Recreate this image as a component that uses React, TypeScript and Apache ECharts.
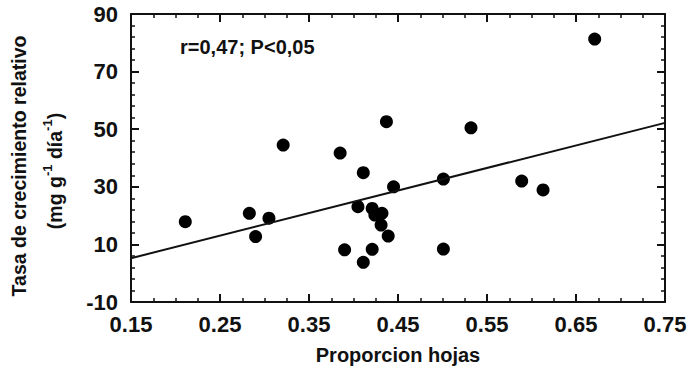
import React, { useEffect, useRef } from "react";
import * as echarts from "echarts";

const proporcionHojas = [0.211, 0.283, 0.29, 0.305, 0.321, 0.385, 0.39, 0.405, 0.411, 0.411, 0.421, 0.424, 0.432, 0.431, 0.421, 0.437, 0.439, 0.445, 0.501, 0.501, 0.532, 0.589, 0.613, 0.671];
const tasaCrecimiento = [17.9, 20.8, 12.7, 19.1, 44.5, 41.7, 8.1, 23.1, 34.9, 3.8, 22.5, 20.2, 20.8, 16.7, 8.3, 52.6, 12.9, 30.0, 32.7, 8.4, 50.5, 32.0, 28.9, 81.3];
const regresionX = [0.15, 0.75];
const regresionY = [5.2, 52.2];
const xTicks = [0.15, 0.25, 0.35, 0.45, 0.55, 0.65, 0.75];
const yTicks = [-10, 10, 30, 50, 70, 90];
const annotation = "r=0,47; P<0,05";
const xName = "Proporcion hojas";
const yName1 = "Tasa de crecimiento relativo";

const FONT = "'Liberation Sans', Arial, sans-serif";
const INK = "#111";

export default function App() {
  const ref = useRef<HTMLDivElement>(null);
  useEffect(() => {
    if (!ref.current) return;
    const chart = echarts.init(ref.current, undefined, { renderer: "svg" });
    const baseX = {
      type: "value",
      min: xTicks[0],
      max: xTicks[xTicks.length - 1],
      interval: 0.1,
      axisLine: { show: true, onZero: false, lineStyle: { color: INK, width: 2 } },
      axisTick: { show: true, inside: true, length: 8, lineStyle: { color: INK, width: 2 } },
      minorTick: { show: true, splitNumber: 4, length: 4, lineStyle: { color: INK, width: 1.5 } },
      splitLine: { show: false },
    };
    const baseY = {
      type: "value",
      min: yTicks[0],
      max: yTicks[yTicks.length - 1],
      interval: 20,
      axisLine: { show: true, onZero: false, lineStyle: { color: INK, width: 2 } },
      axisTick: { show: true, inside: true, length: 8, lineStyle: { color: INK, width: 2 } },
      minorTick: { show: true, splitNumber: 5, length: 4, lineStyle: { color: INK, width: 1.5 } },
      splitLine: { show: false },
    };
    chart.setOption({
      animation: false,
      backgroundColor: "#fff",
      grid: { left: 131, right: 27, top: 14, bottom: 78 },
      xAxis: [
        {
          ...baseX,
          position: "bottom",
          name: xName,
          nameLocation: "middle",
          nameGap: 43,
          nameTextStyle: { fontFamily: FONT, fontWeight: "bold", fontSize: 20, color: INK },
          axisLabel: {
            margin: 11,
            fontFamily: FONT,
            fontWeight: "bold",
            fontSize: 22,
            color: INK,
            formatter: (v: number) => v.toFixed(2),
          },
        },
        { ...baseX, position: "top", axisLabel: { show: false } },
      ],
      yAxis: [
        {
          ...baseY,
          position: "left",
          axisLabel: { margin: 13, fontFamily: FONT, fontWeight: "bold", fontSize: 22, color: INK },
        },
        { ...baseY, position: "right", axisLabel: { show: false } },
      ],
      graphic: [
        {
          type: "text",
          left: 180,
          top: 37,
          style: { text: annotation, fontFamily: FONT, fontWeight: "bold", fontSize: 20, fill: INK },
        },
        {
          type: "text",
          x: 19,
          y: 166,
          rotation: Math.PI / 2,
          style: {
            text: yName1,
            fontFamily: FONT,
            fontWeight: "bold",
            fontSize: 19.5,
            fill: INK,
            align: "center",
            verticalAlign: "middle",
          },
        },
        {
          type: "text",
          x: 53,
          y: 171,
          rotation: Math.PI / 2,
          style: {
            text: "{n|(mg g}{s|-1}{n| día}{s|-1}{n|)}",
            align: "center",
            verticalAlign: "middle",
            rich: {
              n: { fontFamily: FONT, fontWeight: "bold", fontSize: 19.5, fill: INK, color: INK, lineHeight: 24, verticalAlign: "bottom" },
              s: { fontFamily: FONT, fontWeight: "bold", fontSize: 13, fill: INK, color: INK, lineHeight: 24, verticalAlign: "top" },
            },
          },
        },
      ],
      series: [
        {
          type: "line",
          xAxisIndex: 0,
          yAxisIndex: 0,
          data: regresionX.map((x, i) => [x, regresionY[i]]),
          showSymbol: false,
          symbol: "none",
          lineStyle: { color: INK, width: 2 },
          silent: true,
        },
        {
          type: "scatter",
          xAxisIndex: 0,
          yAxisIndex: 0,
          data: proporcionHojas.map((x, i) => [x, tasaCrecimiento[i]]),
          symbol: "circle",
          symbolSize: 13,
          itemStyle: { color: "#000", opacity: 1 },
        },
      ],
    });
    return () => chart.dispose();
  }, []);
  return <div ref={ref} style={{ width: 692, height: 380, position: "absolute", left: 0, top: 0 }} />;
}
